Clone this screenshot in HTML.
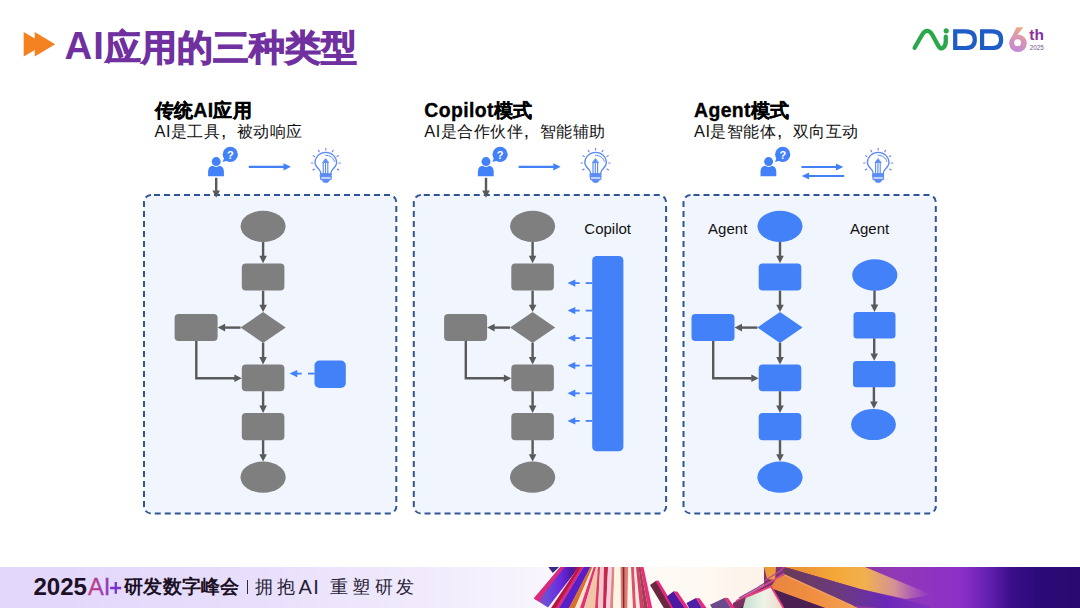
<!DOCTYPE html>
<html><head><meta charset="utf-8">
<style>
html,body{margin:0;padding:0;background:#fff;}
body{width:1080px;height:608px;position:relative;overflow:hidden;font-family:"Liberation Sans",sans-serif;}
.abs{position:absolute;}
.title{position:absolute;left:64.6px;top:24px;font-weight:bold;color:#7030a0;white-space:nowrap;line-height:44px;}
.tl{font-size:38.3px;letter-spacing:1px}
.tc{font-size:35.8px;-webkit-text-stroke:1px #7030a0;margin-left:0.5px;position:relative;top:0.8px}
.h{position:absolute;font-size:19.4px;letter-spacing:0.4px;-webkit-text-stroke:0.35px #000;font-weight:bold;color:#000;white-space:nowrap;line-height:24px;}
.s{position:absolute;font-size:16.4px;letter-spacing:0.5px;color:#111;white-space:nowrap;line-height:22px;}
.cm{display:inline-block;width:16.4px;font-size:19px;line-height:10px;text-indent:0.5px}
.lbl{position:absolute;font-size:15px;color:#111;white-space:nowrap;line-height:18px;}
svg{position:absolute;left:0;top:0;}
.ft{position:absolute;top:575px;font-size:17.5px;color:#262034;line-height:24px;}
.ftl{font-size:20px;top:574.6px}
.foot{position:absolute;left:0;top:567px;width:1080px;height:41px;overflow:hidden;}
</style></head><body>
<svg width="1080" height="608" viewBox="0 0 1080 608"><rect x="144" y="195.1" width="252.3" height="318.3" rx="7" fill="#f1f5fe" stroke="#2f5597" stroke-width="2" stroke-dasharray="6 4" stroke-dashoffset="-3"/><rect x="413.8" y="195.1" width="252.3" height="318.3" rx="7" fill="#f1f5fe" stroke="#2f5597" stroke-width="2" stroke-dasharray="6 4" stroke-dashoffset="-3"/><rect x="683.5" y="195.1" width="252.3" height="318.3" rx="7" fill="#f1f5fe" stroke="#2f5597" stroke-width="2" stroke-dasharray="6 4" stroke-dashoffset="-3"/><ellipse cx="263.1" cy="226.3" rx="22.5" ry="15.6" fill="#7f7f7f"/><line x1="263.1" y1="242" x2="263.1" y2="256.29999999999995" stroke="#595959" stroke-width="2.4"/><polygon points="259.3,255.79999999999998 266.90000000000003,255.79999999999998 263.1,263.2" fill="#595959"/><rect x="241.8" y="263.5" width="42.6" height="27.1" rx="4" fill="#7f7f7f"/><line x1="263.1" y1="290.7" x2="263.1" y2="305.20000000000005" stroke="#595959" stroke-width="2.4"/><polygon points="259.3,304.70000000000005 266.90000000000003,304.70000000000005 263.1,312.1" fill="#595959"/><polygon points="240.50000000000003,327.5 263.1,312.1 285.70000000000005,327.5 263.1,342.9" fill="#7f7f7f"/><line x1="240.50000000000003" y1="327.6" x2="224.60000000000002" y2="327.6" stroke="#595959" stroke-width="2.4"/><polygon points="225.10000000000002,323.8 225.10000000000002,331.40000000000003 217.70000000000002,327.6" fill="#595959"/><rect x="174.60000000000002" y="313.9" width="43" height="27" rx="4" fill="#7f7f7f"/><polyline points="196.3,341 196.3,378.3 234.10000000000002,378.3" fill="none" stroke="#595959" stroke-width="2.4"/><line x1="233.10000000000002" y1="378.3" x2="234.9" y2="378.3" stroke="#595959" stroke-width="2.4"/><polygon points="234.4,374.5 234.4,382.1 241.8,378.3" fill="#595959"/><line x1="263.1" y1="342.8" x2="263.1" y2="357.6" stroke="#595959" stroke-width="2.4"/><polygon points="259.3,357.1 266.90000000000003,357.1 263.1,364.5" fill="#595959"/><rect x="241.8" y="364.6" width="42.6" height="26.7" rx="4" fill="#7f7f7f"/><line x1="263.1" y1="391.2" x2="263.1" y2="406.1" stroke="#595959" stroke-width="2.4"/><polygon points="259.3,405.6 266.90000000000003,405.6 263.1,413" fill="#595959"/><rect x="241.8" y="413" width="42.6" height="27.2" rx="4" fill="#7f7f7f"/><line x1="263.1" y1="440.1" x2="263.1" y2="454.70000000000005" stroke="#595959" stroke-width="2.4"/><polygon points="259.3,454.20000000000005 266.90000000000003,454.20000000000005 263.1,461.6" fill="#595959"/><ellipse cx="263.1" cy="477.2" rx="22.6" ry="15.6" fill="#7f7f7f"/><rect x="314.5" y="360.5" width="31.3" height="27.5" rx="5" fill="#4281f8"/><line x1="314.5" y1="373.6" x2="308.0" y2="373.6" stroke="#4281f8" stroke-width="1.8"/><line x1="295.5" y1="373.6" x2="301.7" y2="373.6" stroke="#4281f8" stroke-width="1.8"/><polygon points="297.3,369.90000000000003 297.3,377.3 289.5,373.6" fill="#4281f8"/><ellipse cx="532.6" cy="226.3" rx="22.5" ry="15.6" fill="#7f7f7f"/><line x1="532.6" y1="242" x2="532.6" y2="256.29999999999995" stroke="#595959" stroke-width="2.4"/><polygon points="528.8000000000001,255.79999999999998 536.4,255.79999999999998 532.6,263.2" fill="#595959"/><rect x="511.3" y="263.5" width="42.6" height="27.1" rx="4" fill="#7f7f7f"/><line x1="532.6" y1="290.7" x2="532.6" y2="305.20000000000005" stroke="#595959" stroke-width="2.4"/><polygon points="528.8000000000001,304.70000000000005 536.4,304.70000000000005 532.6,312.1" fill="#595959"/><polygon points="510.0,327.5 532.6,312.1 555.2,327.5 532.6,342.9" fill="#7f7f7f"/><line x1="510.0" y1="327.6" x2="494.1" y2="327.6" stroke="#595959" stroke-width="2.4"/><polygon points="494.6,323.8 494.6,331.40000000000003 487.20000000000005,327.6" fill="#595959"/><rect x="444.1" y="313.9" width="43" height="27" rx="4" fill="#7f7f7f"/><polyline points="465.8,341 465.8,378.3 503.6,378.3" fill="none" stroke="#595959" stroke-width="2.4"/><line x1="502.6" y1="378.3" x2="504.40000000000003" y2="378.3" stroke="#595959" stroke-width="2.4"/><polygon points="503.90000000000003,374.5 503.90000000000003,382.1 511.3,378.3" fill="#595959"/><line x1="532.6" y1="342.8" x2="532.6" y2="357.6" stroke="#595959" stroke-width="2.4"/><polygon points="528.8000000000001,357.1 536.4,357.1 532.6,364.5" fill="#595959"/><rect x="511.3" y="364.6" width="42.6" height="26.7" rx="4" fill="#7f7f7f"/><line x1="532.6" y1="391.2" x2="532.6" y2="406.1" stroke="#595959" stroke-width="2.4"/><polygon points="528.8000000000001,405.6 536.4,405.6 532.6,413" fill="#595959"/><rect x="511.3" y="413" width="42.6" height="27.2" rx="4" fill="#7f7f7f"/><line x1="532.6" y1="440.1" x2="532.6" y2="454.70000000000005" stroke="#595959" stroke-width="2.4"/><polygon points="528.8000000000001,454.20000000000005 536.4,454.20000000000005 532.6,461.6" fill="#595959"/><ellipse cx="532.6" cy="477.2" rx="22.6" ry="15.6" fill="#7f7f7f"/><rect x="592.2" y="255.9" width="31.2" height="195.4" rx="4.5" fill="#4281f8"/><line x1="592.2" y1="283.1" x2="585.7" y2="283.1" stroke="#4281f8" stroke-width="1.8"/><line x1="573.5" y1="283.1" x2="579.7" y2="283.1" stroke="#4281f8" stroke-width="1.8"/><polygon points="575.3,279.40000000000003 575.3,286.8 567.5,283.1" fill="#4281f8"/><line x1="592.2" y1="310.6" x2="585.7" y2="310.6" stroke="#4281f8" stroke-width="1.8"/><line x1="573.5" y1="310.6" x2="579.7" y2="310.6" stroke="#4281f8" stroke-width="1.8"/><polygon points="575.3,306.90000000000003 575.3,314.3 567.5,310.6" fill="#4281f8"/><line x1="592.2" y1="338.1" x2="585.7" y2="338.1" stroke="#4281f8" stroke-width="1.8"/><line x1="573.5" y1="338.1" x2="579.7" y2="338.1" stroke="#4281f8" stroke-width="1.8"/><polygon points="575.3,334.40000000000003 575.3,341.8 567.5,338.1" fill="#4281f8"/><line x1="592.2" y1="365.6" x2="585.7" y2="365.6" stroke="#4281f8" stroke-width="1.8"/><line x1="573.5" y1="365.6" x2="579.7" y2="365.6" stroke="#4281f8" stroke-width="1.8"/><polygon points="575.3,361.90000000000003 575.3,369.3 567.5,365.6" fill="#4281f8"/><line x1="592.2" y1="393.3" x2="585.7" y2="393.3" stroke="#4281f8" stroke-width="1.8"/><line x1="573.5" y1="393.3" x2="579.7" y2="393.3" stroke="#4281f8" stroke-width="1.8"/><polygon points="575.3,389.6 575.3,397.0 567.5,393.3" fill="#4281f8"/><line x1="592.2" y1="420.9" x2="585.7" y2="420.9" stroke="#4281f8" stroke-width="1.8"/><line x1="573.5" y1="420.9" x2="579.7" y2="420.9" stroke="#4281f8" stroke-width="1.8"/><polygon points="575.3,417.2 575.3,424.59999999999997 567.5,420.9" fill="#4281f8"/><ellipse cx="780" cy="226.3" rx="22.5" ry="15.6" fill="#4281f8"/><line x1="780" y1="242" x2="780" y2="256.29999999999995" stroke="#595959" stroke-width="2.4"/><polygon points="776.2,255.79999999999998 783.8,255.79999999999998 780,263.2" fill="#595959"/><rect x="758.7" y="263.5" width="42.6" height="27.1" rx="4" fill="#4281f8"/><line x1="780" y1="290.7" x2="780" y2="305.20000000000005" stroke="#595959" stroke-width="2.4"/><polygon points="776.2,304.70000000000005 783.8,304.70000000000005 780,312.1" fill="#595959"/><polygon points="757.4,327.5 780,312.1 802.6,327.5 780,342.9" fill="#4281f8"/><line x1="757.4" y1="327.6" x2="741.5" y2="327.6" stroke="#595959" stroke-width="2.4"/><polygon points="742.0,323.8 742.0,331.40000000000003 734.6,327.6" fill="#595959"/><rect x="691.5" y="313.9" width="43" height="27" rx="4" fill="#4281f8"/><polyline points="713.2,341 713.2,378.3 751,378.3" fill="none" stroke="#595959" stroke-width="2.4"/><line x1="750" y1="378.3" x2="751.8000000000001" y2="378.3" stroke="#595959" stroke-width="2.4"/><polygon points="751.3000000000001,374.5 751.3000000000001,382.1 758.7,378.3" fill="#595959"/><line x1="780" y1="342.8" x2="780" y2="357.6" stroke="#595959" stroke-width="2.4"/><polygon points="776.2,357.1 783.8,357.1 780,364.5" fill="#595959"/><rect x="758.7" y="364.6" width="42.6" height="26.7" rx="4" fill="#4281f8"/><line x1="780" y1="391.2" x2="780" y2="406.1" stroke="#595959" stroke-width="2.4"/><polygon points="776.2,405.6 783.8,405.6 780,413" fill="#595959"/><rect x="758.7" y="413" width="42.6" height="27.2" rx="4" fill="#4281f8"/><line x1="780" y1="440.1" x2="780" y2="454.70000000000005" stroke="#595959" stroke-width="2.4"/><polygon points="776.2,454.20000000000005 783.8,454.20000000000005 780,461.6" fill="#595959"/><ellipse cx="780" cy="477.2" rx="22.6" ry="15.6" fill="#4281f8"/><ellipse cx="874.8" cy="275" rx="22.6" ry="15.7" fill="#4281f8"/><line x1="874.5" y1="290.5" x2="874.5" y2="305.1" stroke="#595959" stroke-width="2.4"/><polygon points="870.7,304.6 878.3,304.6 874.5,312" fill="#595959"/><rect x="853.5" y="312.1" width="42" height="26.3" rx="3.5" fill="#4281f8"/><line x1="874.2" y1="338.3" x2="874.2" y2="353.90000000000003" stroke="#595959" stroke-width="2.4"/><polygon points="870.4000000000001,353.40000000000003 878.0,353.40000000000003 874.2,360.8" fill="#595959"/><rect x="853.0" y="360.9" width="42.5" height="26.3" rx="3.5" fill="#4281f8"/><line x1="873.9" y1="387.1" x2="873.9" y2="401.90000000000003" stroke="#595959" stroke-width="2.4"/><polygon points="870.1,401.40000000000003 877.6999999999999,401.40000000000003 873.9,408.8" fill="#595959"/><ellipse cx="873.5" cy="424.5" rx="22.4" ry="15.6" fill="#4281f8"/><g transform="translate(0,0)"><path d="M208.1 176.3 L208.1 171.8 Q208.1 165.6 214.3 165.6 L217.7 165.6 Q223.9 165.6 223.9 171.8 L223.9 176.3 Z" fill="#4281f8"/><circle cx="216.2" cy="161.6" r="5.3" fill="#fff"/><circle cx="216.2" cy="161.6" r="4.5" fill="#4281f8"/><circle cx="230.3" cy="154.4" r="7.6" fill="#4281f8"/><path d="M224.5 157 L222.6 162 L228 160.5 Z" fill="#4281f8"/><text x="230.4" y="158.6" font-family="Liberation Sans" font-weight="bold" font-size="11" fill="#fff" text-anchor="middle">?</text></g><g transform="translate(269.8,0)"><path d="M208.1 176.3 L208.1 171.8 Q208.1 165.6 214.3 165.6 L217.7 165.6 Q223.9 165.6 223.9 171.8 L223.9 176.3 Z" fill="#4281f8"/><circle cx="216.2" cy="161.6" r="5.3" fill="#fff"/><circle cx="216.2" cy="161.6" r="4.5" fill="#4281f8"/><circle cx="230.3" cy="154.4" r="7.6" fill="#4281f8"/><path d="M224.5 157 L222.6 162 L228 160.5 Z" fill="#4281f8"/><text x="230.4" y="158.6" font-family="Liberation Sans" font-weight="bold" font-size="11" fill="#fff" text-anchor="middle">?</text></g><g transform="translate(552.4,0)"><path d="M208.1 176.3 L208.1 171.8 Q208.1 165.6 214.3 165.6 L217.7 165.6 Q223.9 165.6 223.9 171.8 L223.9 176.3 Z" fill="#4281f8"/><circle cx="216.2" cy="161.6" r="5.3" fill="#fff"/><circle cx="216.2" cy="161.6" r="4.5" fill="#4281f8"/><circle cx="230.3" cy="154.4" r="7.6" fill="#4281f8"/><path d="M224.5 157 L222.6 162 L228 160.5 Z" fill="#4281f8"/><text x="230.4" y="158.6" font-family="Liberation Sans" font-weight="bold" font-size="11" fill="#fff" text-anchor="middle">?</text></g><line x1="216.2" y1="177.8" x2="216.2" y2="190.9" stroke="#595959" stroke-width="2.4"/><polygon points="212.39999999999998,190.4 220.0,190.4 216.2,197.8" fill="#595959"/><line x1="486.0" y1="177.8" x2="486.0" y2="190.9" stroke="#595959" stroke-width="2.4"/><polygon points="482.2,190.4 489.8,190.4 486.0,197.8" fill="#595959"/><line x1="248.8" y1="166.8" x2="284.0" y2="166.8" stroke="#4281f8" stroke-width="2.2"/><polygon points="283.5,163.20000000000002 283.5,170.4 290.9,166.8" fill="#4281f8"/><line x1="518.6" y1="166.8" x2="553.8000000000001" y2="166.8" stroke="#4281f8" stroke-width="2.2"/><polygon points="553.3000000000001,163.20000000000002 553.3000000000001,170.4 560.7,166.8" fill="#4281f8"/><line x1="801.4" y1="167" x2="836.4" y2="167" stroke="#4281f8" stroke-width="2.2"/><polygon points="835.9,163.4 835.9,170.6 843.3,167" fill="#4281f8"/><line x1="844.2" y1="176" x2="808.6" y2="176" stroke="#4281f8" stroke-width="2.2"/><polygon points="809.1,172.4 809.1,179.6 801.7,176" fill="#4281f8"/><g transform="translate(0,0)" fill="none" stroke="#5a8cf2" stroke-width="1.3" stroke-linecap="round" stroke-linejoin="round"><path d="M320.6 174 L320.6 172.2 C320.6 169.5 315 167.5 315 162.8 C315 156.8 319.8 152.4 325.8 152.4 C331.8 152.4 336.6 156.8 336.6 162.8 C336.6 167.5 331.1 169.5 331.1 172.2 L331.1 174 Z"/><path d="M320.6 174 L331.1 174 L331.1 176.9 L320.6 176.9 Z" fill="#5a8cf2" stroke-width="1"/><path d="M320.6 176.5 L320.6 179.3 L331.1 179.3 L331.1 176.5" stroke-width="1.1"/><path d="M321.2 179.2 L330.5 179.2 L328.6 181.4 L327.6 182.6 L324 182.6 L323 181.4 Z" fill="#5a8cf2" stroke-width="0.6"/><path d="M325.5 158.8 L322.6 162.5 L328.4 162.5 Z" fill="#5a8cf2" stroke-width="0.8"/><path d="M323.2 162.5 L323.2 174 M325.5 162.5 L325.5 174 M327.8 162.5 L327.8 174" stroke-width="1.15" stroke-linecap="butt"/><path d="M325.6 155.2 C330 155.4 333.8 157.8 334.4 161.4" stroke-width="1"/><line x1="325.80" y1="150.00" x2="325.80" y2="148.40" stroke="#7f86e6" stroke-width="1.2"/><line x1="332.30" y1="151.74" x2="333.10" y2="150.36" stroke="#7f86e6" stroke-width="1.2"/><line x1="319.30" y1="151.74" x2="318.50" y2="150.36" stroke="#7f86e6" stroke-width="1.2"/><line x1="337.06" y1="156.50" x2="338.44" y2="155.70" stroke="#7f86e6" stroke-width="1.2"/><line x1="314.54" y1="156.50" x2="313.16" y2="155.70" stroke="#7f86e6" stroke-width="1.2"/><line x1="338.80" y1="163.00" x2="340.40" y2="163.00" stroke="#7f86e6" stroke-width="1.2"/><line x1="312.80" y1="163.00" x2="311.20" y2="163.00" stroke="#7f86e6" stroke-width="1.2"/><line x1="337.28" y1="169.10" x2="338.69" y2="169.85" stroke="#7f86e6" stroke-width="1.2"/><line x1="314.32" y1="169.10" x2="312.91" y2="169.85" stroke="#7f86e6" stroke-width="1.2"/></g><g transform="translate(269.8,0)" fill="none" stroke="#5a8cf2" stroke-width="1.3" stroke-linecap="round" stroke-linejoin="round"><path d="M320.6 174 L320.6 172.2 C320.6 169.5 315 167.5 315 162.8 C315 156.8 319.8 152.4 325.8 152.4 C331.8 152.4 336.6 156.8 336.6 162.8 C336.6 167.5 331.1 169.5 331.1 172.2 L331.1 174 Z"/><path d="M320.6 174 L331.1 174 L331.1 176.9 L320.6 176.9 Z" fill="#5a8cf2" stroke-width="1"/><path d="M320.6 176.5 L320.6 179.3 L331.1 179.3 L331.1 176.5" stroke-width="1.1"/><path d="M321.2 179.2 L330.5 179.2 L328.6 181.4 L327.6 182.6 L324 182.6 L323 181.4 Z" fill="#5a8cf2" stroke-width="0.6"/><path d="M325.5 158.8 L322.6 162.5 L328.4 162.5 Z" fill="#5a8cf2" stroke-width="0.8"/><path d="M323.2 162.5 L323.2 174 M325.5 162.5 L325.5 174 M327.8 162.5 L327.8 174" stroke-width="1.15" stroke-linecap="butt"/><path d="M325.6 155.2 C330 155.4 333.8 157.8 334.4 161.4" stroke-width="1"/><line x1="325.80" y1="150.00" x2="325.80" y2="148.40" stroke="#7f86e6" stroke-width="1.2"/><line x1="332.30" y1="151.74" x2="333.10" y2="150.36" stroke="#7f86e6" stroke-width="1.2"/><line x1="319.30" y1="151.74" x2="318.50" y2="150.36" stroke="#7f86e6" stroke-width="1.2"/><line x1="337.06" y1="156.50" x2="338.44" y2="155.70" stroke="#7f86e6" stroke-width="1.2"/><line x1="314.54" y1="156.50" x2="313.16" y2="155.70" stroke="#7f86e6" stroke-width="1.2"/><line x1="338.80" y1="163.00" x2="340.40" y2="163.00" stroke="#7f86e6" stroke-width="1.2"/><line x1="312.80" y1="163.00" x2="311.20" y2="163.00" stroke="#7f86e6" stroke-width="1.2"/><line x1="337.28" y1="169.10" x2="338.69" y2="169.85" stroke="#7f86e6" stroke-width="1.2"/><line x1="314.32" y1="169.10" x2="312.91" y2="169.85" stroke="#7f86e6" stroke-width="1.2"/></g><g transform="translate(552.4,0)" fill="none" stroke="#5a8cf2" stroke-width="1.3" stroke-linecap="round" stroke-linejoin="round"><path d="M320.6 174 L320.6 172.2 C320.6 169.5 315 167.5 315 162.8 C315 156.8 319.8 152.4 325.8 152.4 C331.8 152.4 336.6 156.8 336.6 162.8 C336.6 167.5 331.1 169.5 331.1 172.2 L331.1 174 Z"/><path d="M320.6 174 L331.1 174 L331.1 176.9 L320.6 176.9 Z" fill="#5a8cf2" stroke-width="1"/><path d="M320.6 176.5 L320.6 179.3 L331.1 179.3 L331.1 176.5" stroke-width="1.1"/><path d="M321.2 179.2 L330.5 179.2 L328.6 181.4 L327.6 182.6 L324 182.6 L323 181.4 Z" fill="#5a8cf2" stroke-width="0.6"/><path d="M325.5 158.8 L322.6 162.5 L328.4 162.5 Z" fill="#5a8cf2" stroke-width="0.8"/><path d="M323.2 162.5 L323.2 174 M325.5 162.5 L325.5 174 M327.8 162.5 L327.8 174" stroke-width="1.15" stroke-linecap="butt"/><path d="M325.6 155.2 C330 155.4 333.8 157.8 334.4 161.4" stroke-width="1"/><line x1="325.80" y1="150.00" x2="325.80" y2="148.40" stroke="#7f86e6" stroke-width="1.2"/><line x1="332.30" y1="151.74" x2="333.10" y2="150.36" stroke="#7f86e6" stroke-width="1.2"/><line x1="319.30" y1="151.74" x2="318.50" y2="150.36" stroke="#7f86e6" stroke-width="1.2"/><line x1="337.06" y1="156.50" x2="338.44" y2="155.70" stroke="#7f86e6" stroke-width="1.2"/><line x1="314.54" y1="156.50" x2="313.16" y2="155.70" stroke="#7f86e6" stroke-width="1.2"/><line x1="338.80" y1="163.00" x2="340.40" y2="163.00" stroke="#7f86e6" stroke-width="1.2"/><line x1="312.80" y1="163.00" x2="311.20" y2="163.00" stroke="#7f86e6" stroke-width="1.2"/><line x1="337.28" y1="169.10" x2="338.69" y2="169.85" stroke="#7f86e6" stroke-width="1.2"/><line x1="314.32" y1="169.10" x2="312.91" y2="169.85" stroke="#7f86e6" stroke-width="1.2"/></g><polygon points="23.7,32 44.7,44.2 23.7,56.4" fill="#f58220"/><polygon points="34.7,32 55.2,44.2 34.7,56.4" fill="#f58220"/></svg>
<div class="title"><span class="tl">AI</span><span class="tc">应用的三种类型</span></div>
<div class="h" style="left:154.5px;top:98px">传统AI应用</div><div class="s" style="left:154.5px;top:120px">AI是工具<span class="cm">,</span>被动响应</div><div class="h" style="left:424.3px;top:98px">Copilot模式</div><div class="s" style="left:424.3px;top:120px">AI是合作伙伴<span class="cm">,</span>智能辅助</div><div class="h" style="left:694px;top:98px">Agent模式</div><div class="s" style="left:694px;top:120px">AI是智能体<span class="cm">,</span>双向互动</div>

<div class="lbl" style="left:584.3px;top:220px">Copilot</div>
<div class="lbl" style="left:708.1px;top:220px">Agent</div>
<div class="lbl" style="left:850px;top:220px">Agent</div>


<svg width="1080" height="41" viewBox="0 567 1080 41" style="position:absolute;left:0;top:567px">
<defs>
<linearGradient id="fbg" x1="0" y1="0" x2="1080" y2="0" gradientUnits="userSpaceOnUse">
<stop offset="0" stop-color="#e2d6fb"/><stop offset="0.2" stop-color="#e6ddfb"/><stop offset="0.37" stop-color="#efe9fc"/><stop offset="0.46" stop-color="#f5f1fd"/><stop offset="0.5" stop-color="#f8f5fd"/><stop offset="0.57" stop-color="#fdf9f6"/><stop offset="0.64" stop-color="#fefaf3"/><stop offset="0.7" stop-color="#fdf3ea"/><stop offset="1" stop-color="#fdf3ea"/>
</linearGradient>
<linearGradient id="rgt" x1="740" y1="0" x2="1080" y2="0" gradientUnits="userSpaceOnUse">
<stop offset="0" stop-color="#7a3060"/><stop offset="0.3" stop-color="#8a3a98"/><stop offset="0.47" stop-color="#9038b8"/><stop offset="0.65" stop-color="#8c30c8"/><stop offset="0.73" stop-color="#6420b2"/><stop offset="0.8" stop-color="#380e88"/><stop offset="0.88" stop-color="#2c0a78"/><stop offset="1" stop-color="#2a0a70"/>
</linearGradient>
<linearGradient id="orng" x1="0" y1="0" x2="1" y2="0">
<stop offset="0" stop-color="#f0902e"/><stop offset="0.6" stop-color="#f6a640"/><stop offset="1" stop-color="#f6a640" stop-opacity="0"/>
</linearGradient>
<linearGradient id="or1" x1="770" y1="0" x2="860" y2="0" gradientUnits="userSpaceOnUse"><stop offset="0" stop-color="#e88440"/><stop offset="0.5" stop-color="#f09040"/><stop offset="1" stop-color="#f2a458"/></linearGradient>
<linearGradient id="dk1" x1="784" y1="0" x2="930" y2="0" gradientUnits="userSpaceOnUse"><stop offset="0" stop-color="#6a3a58"/><stop offset="0.4" stop-color="#6a3a80"/><stop offset="0.7" stop-color="#6a28b8"/><stop offset="1" stop-color="#7a2cc0" stop-opacity="0.6"/></linearGradient>
<linearGradient id="cap" x1="745" y1="0" x2="783" y2="0" gradientUnits="userSpaceOnUse"><stop offset="0" stop-color="#c8e0d0"/><stop offset="0.5" stop-color="#eef4e8"/><stop offset="1" stop-color="#f0d8c8"/></linearGradient>
<linearGradient id="or2" x1="784" y1="0" x2="932" y2="0" gradientUnits="userSpaceOnUse"><stop offset="0" stop-color="#e88a38"/><stop offset="0.35" stop-color="#f4a838"/><stop offset="0.55" stop-color="#f2b050"/><stop offset="0.75" stop-color="#e0a090" stop-opacity="0.85"/><stop offset="1" stop-color="#c080c0" stop-opacity="0"/></linearGradient>
<clipPath id="rclip"><polygon points="733,608 733,603 764,585 764,567 1080,567 1080,608"/></clipPath>
<linearGradient id="pbar" x1="0" y1="0" x2="1" y2="0">
<stop offset="0" stop-color="#e0287a"/><stop offset="0.25" stop-color="#6a50d8"/><stop offset="0.6" stop-color="#6a28e0"/><stop offset="0.85" stop-color="#4a18a0"/><stop offset="1" stop-color="#a01840"/>
</linearGradient>
</defs>
<rect x="0" y="567" width="1080" height="41" fill="url(#fbg)"/>
<!-- right section -->
<polygon points="733,608 733,603 764,585 764,567 1080,567 1080,608" fill="url(#rgt)"/>
<g clip-path="url(#rclip)">
<polygon points="784,567 865,567 932,595 906,599 860,589 788,568" fill="url(#or2)"/>
<polygon points="784,569 788,568 860,589 930,606 930,608 880,608 851,604.9 784.4,574.9" fill="url(#dk1)"/>
<polygon points="776,579 784.4,574.9 851,604.9 858,608 825,608 770,588" fill="url(#or1)"/>
<polygon points="740,608 770,588 825,608" fill="#4a2050"/>
<polyline points="784.4,574.9 853,606" fill="none" stroke="#f5a060" stroke-width="1.3"/>
<polygon points="764,567 776,567 775,580 767,579" fill="#eb9a3c"/>
</g>
<polyline points="736,601 754,591.6 784.4,573.6" fill="none" stroke="#e04a8a" stroke-width="1.6"/>
<polyline points="739,598 757,588 764,583.5" fill="none" stroke="#8a3a90" stroke-width="1.3"/><polyline points="764,581 780,571 784,567" fill="none" stroke="#c04a90" stroke-width="1.3"/>
<polygon points="743,608 746,597 771,586 783,608" fill="url(#cap)"/>
<polyline points="745,597.5 771,586.5 783.5,608" fill="none" stroke="#ea3f7f" stroke-width="1.8"/>
<!-- staircase bar ends -->
<polygon points="650,585 656.5,580.5 673,608 663.8,608" fill="#6a2840"/>
<polygon points="655.5,581 658.5,580.5 675,608 671,608" fill="#e8287a"/>
<polygon points="666.8,596.4 673.6,591.3 685,608 673,608" fill="#4a1aa0"/>
<polygon points="673.6,591.3 677.5,591.8 688.5,608 684.5,608" fill="#e8287a"/>
<polygon points="686.4,603 696,598 702,608 689,608" fill="#5020a8"/>
<polygon points="696,598 699.5,598.2 706.5,608 702,608" fill="#e8287a"/>
<polygon points="710,604.8 724.8,597.8 731,608 712,608" fill="#6a4a8a"/>
<polygon points="724.8,597.8 728,598 735,608 731,608" fill="#e8287a"/>
<!-- left fan -->
<polygon points="548.3,567 559,567 552.8,572.9" fill="#3a2a80"/>
<polygon points="533.8,598.5 560.4,567 579,567 548,607.5" fill="url(#pbar)"/>
<polygon points="533.8,598.5 560.4,567 564.6,567 538,601" fill="#e0287a"/>
<polygon points="578.4,567 582.6,567 556.2,608 551,608" fill="#b81840"/>
<polygon points="581,567 583.6,567 559.2,608 555.6,608" fill="#e0287a"/>
<polygon points="583.5,567 590.6,567 569.2,608 559,608" fill="#5a1ec8"/>
<polygon points="590.4,567 592.6,567 575.2,608 569,608" fill="#d87030"/>
<polygon points="592.5,567 594,567 580.2,608 575,608" fill="#fbe4cc"/>
<polygon points="593.8,567 596.2,567 584.2,608 580,608" fill="#e0307a"/>
<polygon points="596,567 598.2,567 595.2,608 584,608" fill="#f2c4a8"/>
<polygon points="598,567 600.2,567 598.2,608 595,608" fill="#d84060"/>
<polygon points="600,567 604.2,567 603.2,608 598,608" fill="#f4c8d0"/>
<polygon points="604,567 608.2,567 606.2,608 603,608" fill="#c82848"/>
<polygon points="608,567 612.2,567 610.2,608 606,608" fill="#f4d0e8"/>
<polygon points="612,567 614.6,567 613.2,608 610,608" fill="#e08878"/>
<polygon points="614.5,567 620.6,567 621.2,608 613,608" fill="#fdf4e8"/>
<polygon points="620.5,567 622.8,567 623.2,608 621,608" fill="#d88070"/>
<polygon points="622.6,567 624.8,567 624.8,608 623,608" fill="#8a2030"/>
<polygon points="624.6,567 628.2,567 627.6,608 624.6,608" fill="#e07a70"/>
<polygon points="628,567 631,567 633,608 627.5,608" fill="#fbf4e4"/>
<polygon points="631,567 634.2,567 636.2,608 633,608" fill="#e05068"/>
<polygon points="634,567 636.2,567 640,608 636,608" fill="#f6e8dc"/>
<polygon points="636,567 638.6,567 644.2,608 640,608" fill="#d04068"/>
<polygon points="638.5,567 640.5,567 648,608 644,608" fill="#a04050"/>
<polygon points="640.4,567 643.5,567 652.2,608 648,608" fill="#e8307a"/>
<text x="33.4" y="595.4" font-family="Liberation Sans" font-weight="bold" font-size="23.7" fill="#1c1024" textLength="53.6" lengthAdjust="spacingAndGlyphs">2025</text>
<defs><linearGradient id="aig" x1="88" y1="0" x2="121" y2="0" gradientUnits="userSpaceOnUse"><stop offset="0" stop-color="#c8407e"/><stop offset="0.5" stop-color="#9a3cb4"/><stop offset="1" stop-color="#7a32c8"/></linearGradient></defs>
<text x="88" y="595" font-family="Liberation Sans" font-size="23.7" fill="url(#aig)" stroke="url(#aig)" stroke-width="0.3">AI</text>
<path d="M115.8 582 L115.8 593.8 M110.1 588 L121.2 588" stroke="#7a32c8" stroke-width="2.3"/>
</svg>
<div style="position:absolute;left:124.2px;top:574.8px;font-size:19px;font-weight:bold;color:#1c1024;white-space:nowrap;line-height:24px;letter-spacing:0.2px">研发数字峰会</div>
<div style="position:absolute;left:246.8px;top:580.2px;width:1.3px;height:14px;background:#2a2a3a"></div>
<div class="ft" style="left:254.6px">拥</div><div class="ft" style="left:276.6px">抱</div>
<div class="ft ftl" style="left:298.6px">A</div><div class="ft ftl" style="left:313.2px">I</div>
<div class="ft" style="left:330px">重</div><div class="ft" style="left:352.2px">塑</div>
<div class="ft" style="left:374.6px">研</div><div class="ft" style="left:396.4px">发</div>

<svg width="1080" height="608" viewBox="0 0 1080 608" style="position:absolute;left:0;top:0">
<defs>
<linearGradient id="g6" x1="1022" y1="27" x2="1013" y2="52" gradientUnits="userSpaceOnUse">
<stop offset="0" stop-color="#f0aa78"/><stop offset="0.4" stop-color="#dc98b0"/><stop offset="1" stop-color="#bf88d8"/>
</linearGradient>
<linearGradient id="gth" x1="0" y1="0" x2="1" y2="0">
<stop offset="0" stop-color="#9a2f8f"/><stop offset="1" stop-color="#7a2fb5"/>
</linearGradient>
</defs>
<path d="M914.6 47.8 L922.4 34.2 Q927.2 27.6 932 34.2 L938.2 45.6 Q940.6 50.2 943.6 47.4 Q945.8 45.4 945.8 41 L945.8 36.6" fill="none" stroke="#2ba84a" stroke-width="4.3" stroke-linecap="round" stroke-linejoin="round"/>
<circle cx="946.2" cy="30.8" r="2.6" fill="#2ba84a"/>
<path d="M955.2 31.4 L965.6 31.4 Q974.8 31.4 974.8 39.7 Q974.8 48 965.6 48 L955.2 48 Z" fill="none" stroke="#1e5cc8" stroke-width="4.2"/>
<path d="M982.1 31.4 L992.4 31.4 Q1001.1 31.4 1001.1 39.7 Q1001.1 48 992.4 48 L982.1 48 Z" fill="none" stroke="#1e5cc8" stroke-width="4.2"/>
<g fill="url(#g6)"><circle cx="1018" cy="43.2" r="8.8"/><polygon points="1016.6,27.2 1023.4,27.2 1016.5,36 1009.4,41.5"/></g>
<circle cx="1017.6" cy="42.7" r="3.4" fill="#fff"/>
<text x="1029.3" y="40" font-family="Liberation Sans" font-weight="bold" font-size="15" fill="url(#gth)" textLength="14.6" lengthAdjust="spacingAndGlyphs">th</text>
<text x="1029.8" y="49.9" font-family="Liberation Sans" font-size="6.3" fill="#6b5a8c" textLength="14" lengthAdjust="spacingAndGlyphs">2025</text>
</svg>

</body></html>
